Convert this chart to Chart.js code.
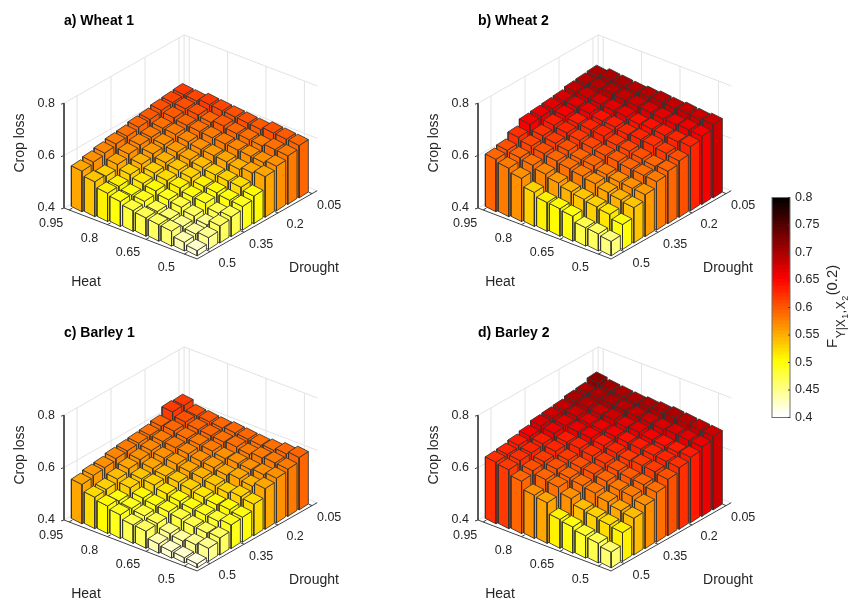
<!DOCTYPE html>
<html>
<head>
<meta charset="utf-8">
<title>Crop loss</title>
<script src="https://cdn.jsdelivr.net/npm/chart.js@4"></script>
<style>
html, body { margin: 0; padding: 0; background: #fff; overflow: hidden; }
canvas { position: absolute; }
</style>
</head>
<body>
<canvas id="panelA" style="left:0;top:0" width="358" height="289"></canvas>
<canvas id="panelB" style="left:414px;top:0" width="358" height="289"></canvas>
<canvas id="panelC" style="left:0;top:312px" width="358" height="289"></canvas>
<canvas id="panelD" style="left:414px;top:312px" width="358" height="289"></canvas>
<canvas id="colorbar" style="left:765px;top:185px" width="90" height="245"></canvas>
<script>
// rows: drought 0.05 -> 0.5, columns: heat 0.5 -> 0.95
const heatLevels = [0.5, 0.55, 0.6, 0.65, 0.7, 0.75, 0.8, 0.85, 0.9, 0.95];
const droughtLevels = [0.05, 0.1, 0.15, 0.2, 0.25, 0.3, 0.35, 0.4, 0.45, 0.5];
const heatTicks = [0.95, 0.8, 0.65, 0.5];
const droughtTicks = [0.5, 0.35, 0.2, 0.05];
const lossTicks = [0.4, 0.6, 0.8];

const wheat1 = [
    [.600, .605, .610, .605, .610, .615, .620, .625, .620, .625],
    [.585, .590, .585, .590, .595, .605, .600, .610, .615, .620],
    [.570, .565, .570, .575, .580, .585, .590, .595, .605, .615],
    [.555, .550, .545, .555, .560, .565, .575, .585, .590, .605],
    [.505, .520, .525, .530, .540, .550, .560, .570, .580, .600],
    [.490, .495, .505, .510, .525, .535, .545, .560, .575, .590],
    [.475, .470, .490, .495, .510, .520, .530, .545, .565, .585],
    [.465, .450, .465, .480, .490, .505, .515, .530, .550, .575],
    [.445, .440, .450, .460, .470, .490, .495, .510, .530, .565],
    [.420, .433, .457, .463, .470, .479, .495, .508, .533, .555]
];
const wheat2 = [
    [.680, .680, .685, .685, .690, .690, .690, .695, .700, .695],
    [.660, .665, .665, .670, .675, .680, .685, .690, .690, .690],
    [.645, .645, .650, .655, .655, .665, .670, .675, .680, .685],
    [.615, .625, .635, .640, .640, .650, .655, .665, .670, .675],
    [.600, .600, .610, .620, .625, .640, .645, .650, .660, .670],
    [.585, .590, .595, .605, .610, .620, .630, .640, .650, .665],
    [.560, .565, .570, .580, .595, .600, .615, .625, .635, .660],
    [.535, .545, .555, .570, .580, .590, .600, .610, .620, .635],
    [.495, .515, .525, .535, .545, .560, .575, .590, .600, .610],
    [.455, .465, .470, .495, .505, .510, .530, .565, .585, .600]
];
const barley1 = [
    [.600, .595, .590, .590, .595, .600, .600, .605, .610, .630],
    [.580, .585, .585, .580, .590, .590, .595, .600, .610, .630],
    [.570, .565, .565, .570, .570, .580, .585, .590, .600, .600],
    [.555, .545, .555, .550, .560, .565, .575, .580, .585, .590],
    [.520, .530, .525, .535, .545, .550, .560, .565, .575, .585],
    [.495, .505, .505, .515, .525, .535, .540, .550, .565, .580],
    [.490, .485, .490, .495, .505, .515, .530, .535, .555, .575],
    [.465, .465, .470, .480, .490, .495, .505, .525, .540, .565],
    [.450, .445, .440, .450, .470, .480, .490, .500, .525, .560],
    [.415, .420, .425, .435, .465, .470, .490, .505, .520, .550]
];
const barley2 = [
    [.680, .685, .690, .695, .695, .695, .695, .700, .705, .715],
    [.665, .670, .675, .675, .680, .685, .690, .695, .700, .700],
    [.650, .650, .655, .660, .670, .670, .680, .680, .690, .695],
    [.635, .640, .645, .650, .655, .660, .665, .670, .680, .685],
    [.615, .625, .630, .630, .640, .650, .660, .665, .670, .680],
    [.590, .600, .605, .615, .625, .635, .645, .650, .665, .675],
    [.565, .580, .585, .600, .610, .615, .625, .640, .650, .660],
    [.540, .550, .565, .580, .590, .600, .615, .625, .640, .650],
    [.510, .520, .530, .540, .565, .590, .600, .615, .635, .640],
    [.460, .475, .485, .500, .510, .555, .565, .600, .625, .635]
];

const textColor = '#262626';
const fontFamily = '"Liberation Sans", Arial, sans-serif';
const panelW = 358, panelH = 289;

// oblique view: a is the heat direction, b the drought direction, both in bar units
const originX = 64, originY = 208;
const heatStep = [12.8, 4.9], droughtStep = [11.33, -6.44];
const heatEdge = [5.3, 2.7], droughtEdge = [4.6, -3.0];
const lossPx = 262;
const floorA = 10.4, floorB = 10.6;
const heatTickShift = 0.4, droughtTickShift = 1.15;

function project(a, b, z) {
    return {
        x: originX + a * heatStep[0] + b * droughtStep[0],
        y: originY + a * heatStep[1] + b * droughtStep[1] - (z - 0.4) * lossPx
    };
}

function heatPos(h) {
    return heatLevels.length - 1 - heatLevels.indexOf(h) + heatTickShift;
}

function droughtPos(d) {
    return droughtLevels.length - 1 - droughtLevels.indexOf(d) + droughtTickShift;
}

// flipped "hot" map over 0.4 - 0.8, 64 steps like the colorbar
function hotColor(v) {
    const steps = 64;
    let t = Math.floor((v - 0.4) / 0.4 * steps) / (steps - 1);
    t = Math.min(1, Math.max(0, t));
    const s = 1 - t;
    const r = Math.min(1, s / 0.375);
    const g = Math.min(1, Math.max(0, (s - 0.375) / 0.375));
    const b = Math.min(1, Math.max(0, (s - 0.75) / 0.25));
    return `rgb(${Math.round(r * 255)},${Math.round(g * 255)},${Math.round(b * 255)})`;
}

// mid height bars in the picture sit a little lighter on the map than their height
function barColor(v) {
    const shift = v < 0.65 ? Math.max(0, v - 0.55) * 0.15 : Math.max(0, 0.68 - v) * 0.5;
    return hotColor(v - shift);
}

function lineSet(points, color, width) {
    return { data: points, showLine: true, fill: false, pointRadius: 0, borderColor: color, borderWidth: width, tension: 0 };
}

function faceSet(points, color) {
    return {
        data: points.concat([points[0]]),
        showLine: true,
        fill: 'shape',
        backgroundColor: color,
        borderColor: '#333333',
        borderWidth: 0.85,
        borderJoinStyle: 'round',
        pointRadius: 0,
        tension: 0
    };
}

function frameSets() {
    const grid = '#e2e2e2', axis = '#404040';
    const sets = [];
    // back walls and floor
    sets.push(lineSet([project(0, 0, 0.8), project(0, floorB, 0.8), project(floorA, floorB, 0.8)], grid, 1));
    sets.push(lineSet([project(0, floorB, 0.4), project(0, floorB, 0.8)], grid, 1));
    sets.push(lineSet([project(0, 0, 0.6), project(0, floorB, 0.6), project(floorA, floorB, 0.6)], grid, 1));
    sets.push(lineSet([project(0, 0, 0.4), project(0, floorB, 0.4), project(floorA, floorB, 0.4)], grid, 1));
    droughtTicks.forEach(d => {
        const b = droughtPos(d);
        sets.push(lineSet([project(floorA, b, 0.4), project(0, b, 0.4), project(0, b, 0.8)], grid, 1));
    });
    heatTicks.forEach(h => {
        const a = heatPos(h);
        sets.push(lineSet([project(a, 0, 0.4), project(a, floorB, 0.4), project(a, floorB, 0.8)], grid, 1));
    });
    // axes with their ticks
    sets.push(lineSet([project(0, 0, 0.8), project(0, 0, 0.4), project(floorA, 0, 0.4), project(floorA, floorB, 0.4)], axis, 1));
    heatTicks.forEach(h => {
        const a = heatPos(h);
        sets.push(lineSet([project(a, 0, 0.4), project(a, 0.28, 0.4)], axis, 1));
    });
    droughtTicks.forEach(d => {
        const b = droughtPos(d);
        sets.push(lineSet([project(floorA, b, 0.4), project(floorA - 0.28, b, 0.4)], axis, 1));
    });
    lossTicks.forEach(z => {
        const p = project(0, 0, z);
        sets.push(lineSet([p, { x: p.x - 3, y: p.y + 1 }], axis, 1));
    });
    return sets;
}

function barSets(rows) {
    const sets = [];
    // back corner first so nearer bars paint over it
    for (let a = 0; a < heatLevels.length; a++) {
        for (let b = droughtLevels.length - 1; b >= 0; b--) {
            const value = rows[droughtLevels.length - 1 - b][heatLevels.length - 1 - a];
            const color = barColor(value);
            const corner = (sa, sb, z) => {
                const p = project(a + 0.65, b + 0.79, z);
                return { x: p.x + sa * heatEdge[0] + sb * droughtEdge[0], y: p.y + sa * heatEdge[1] + sb * droughtEdge[1] };
            };
            sets.push(faceSet([corner(-1, -1, 0.4), corner(1, -1, 0.4), corner(1, -1, value), corner(-1, -1, value)], color));
            sets.push(faceSet([corner(1, -1, 0.4), corner(1, 1, 0.4), corner(1, 1, value), corner(1, -1, value)], color));
            sets.push(faceSet([corner(-1, -1, value), corner(1, -1, value), corner(1, 1, value), corner(-1, 1, value)], color));
        }
    }
    return sets;
}

function drawText(ctx, text, x, y, font, align) {
    ctx.font = font;
    ctx.fillStyle = textColor;
    ctx.textAlign = align || 'center';
    ctx.textBaseline = 'middle';
    ctx.fillText(text, x, y);
}

function panelLabels(title) {
    return {
        id: 'panelLabels',
        afterDraw(chart) {
            const ctx = chart.ctx;
            const tickFont = `12.5px ${fontFamily}`;
            const labelFont = `14px ${fontFamily}`;
            const dX = chart.scales.x, dY = chart.scales.y;
            const at = (x, y) => [dX.getPixelForValue(x), dY.getPixelForValue(y)];
            ctx.save();
            ctx.font = `bold 14px ${fontFamily}`;
            ctx.fillStyle = '#000';
            ctx.textAlign = 'left';
            ctx.textBaseline = 'middle';
            ctx.fillText(title, ...at(64, 21));
            lossTicks.forEach(z => {
                const p = project(0, 0, z);
                drawText(ctx, String(z.toFixed(1)), ...at(p.x - 9, p.y), tickFont, 'right');
            });
            heatTicks.forEach(h => {
                const p = project(heatPos(h), 0, 0.4);
                drawText(ctx, String(h), ...at(p.x - 18, p.y + 13.5), tickFont);
            });
            droughtTicks.forEach(d => {
                const p = project(floorA, droughtPos(d), 0.4);
                drawText(ctx, String(d), ...at(p.x + 17, p.y + 12), tickFont);
            });
            drawText(ctx, 'Heat', ...at(86, 282), labelFont);
            drawText(ctx, 'Drought', ...at(314, 268), labelFont);
            const [cx, cy] = at(20, 143);
            ctx.translate(cx, cy);
            ctx.rotate(-Math.PI / 2);
            drawText(ctx, 'Crop loss', 0, 0, labelFont);
            ctx.restore();
        }
    };
}

function drawPanel(id, rows, title) {
    const frame = frameSets();
    const bars = barSets(rows);
    // Chart.js paints the last dataset first
    const datasets = frame.concat(bars).reverse();
    new Chart(document.getElementById(id), {
        type: 'scatter',
        data: { datasets: datasets },
        plugins: [panelLabels(title)],
        options: {
            responsive: false,
            animation: false,
            events: [],
            layout: { padding: 0 },
            plugins: { legend: { display: false }, tooltip: { enabled: false } },
            scales: {
                x: { type: 'linear', display: false, min: 0, max: panelW },
                y: { type: 'linear', display: false, min: 0, max: panelH, reverse: true }
            }
        }
    });
}

drawPanel('panelA', wheat1, 'a) Wheat 1');
drawPanel('panelB', wheat2, 'b) Wheat 2');
drawPanel('panelC', barley1, 'c) Barley 1');
drawPanel('panelD', barley2, 'd) Barley 2');

// colorbar: stacked slices on a real value axis
const barMin = 0.4, barMax = 0.8, barSteps = 64;
const sliceSets = [];
for (let i = 0; i < barSteps; i++) {
    const lo = barMin + (barMax - barMin) * i / barSteps;
    const hi = barMin + (barMax - barMin) * (i + 1) / barSteps;
    sliceSets.push({
        data: [[lo, hi + 0.001]],
        backgroundColor: hotColor((lo + hi) / 2),
        borderWidth: 0,
        grouped: false,
        barPercentage: 1,
        categoryPercentage: 1
    });
}

const colorbarFrame = {
    id: 'colorbarFrame',
    afterDraw(chart) {
        const ctx = chart.ctx, area = chart.chartArea, yScale = chart.scales.y;
        ctx.save();
        ctx.strokeStyle = '#6e6e6e';
        ctx.lineWidth = 1;
        ctx.strokeRect(area.left, area.top, area.right - area.left, area.bottom - area.top);
        ctx.strokeStyle = '#404040';
        yScale.ticks.forEach(t => {
            const y = yScale.getPixelForValue(t.value);
            ctx.beginPath();
            ctx.moveTo(area.right - 2, y);
            ctx.lineTo(area.right, y);
            ctx.stroke();
        });
        // F_{Y|X1,X2}(0.2), read bottom to top
        ctx.translate(72, 163);
        ctx.rotate(-Math.PI / 2);
        ctx.fillStyle = textColor;
        ctx.textAlign = 'left';
        ctx.textBaseline = 'alphabetic';
        let pos = 0;
        const pieces = [
            ['F', 15, 0], ['Y|X', 12, 8], ['1', 9, 11], [',', 12, 8], ['X', 12, 8], ['2', 9, 11], ['(0.2)', 14.8, 0]
        ];
        pieces.forEach(([text, size, drop]) => {
            ctx.font = `${size}px ${fontFamily}`;
            ctx.fillText(text, pos, drop);
            pos += ctx.measureText(text).width + 0.5;
        });
        ctx.restore();
    }
};

new Chart(document.getElementById('colorbar'), {
    type: 'bar',
    data: { labels: [''], datasets: sliceSets },
    plugins: [colorbarFrame],
    options: {
        responsive: false,
        animation: false,
        events: [],
        layout: { padding: { left: 7, top: 10, bottom: 10, right: 0 } },
        plugins: { legend: { display: false }, tooltip: { enabled: false } },
        scales: {
            x: { display: false },
            y: {
                position: 'right',
                min: barMin,
                max: barMax,
                afterFit(scale) { scale.width = 65; },
                grid: { display: false, drawTicks: false },
                border: { display: false },
                ticks: {
                    stepSize: 0.05,
                    padding: 5,
                    color: textColor,
                    font: { family: '"Liberation Sans", Arial, sans-serif', size: 12.5 },
                    callback: v => String(+v.toFixed(2))
                }
            }
        }
    }
});
</script>
</body>
</html>
